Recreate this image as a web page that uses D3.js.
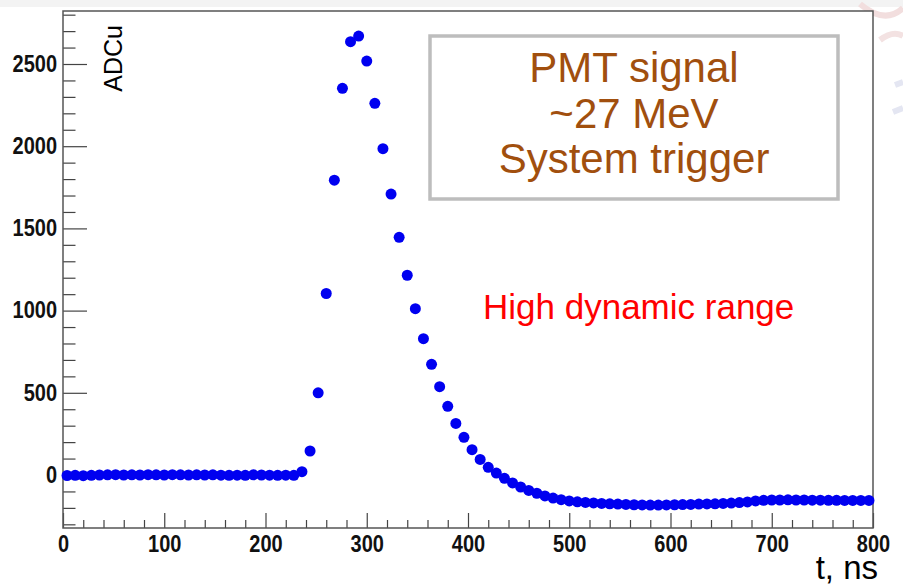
<!doctype html>
<html>
<head>
<meta charset="utf-8">
<script src="https://cdn.jsdelivr.net/npm/d3@7/dist/d3.min.js"></script>
<style>
body { margin: 0; background: #fff; }
text { font-family: "Liberation Sans", Arial, sans-serif; }
</style>
</head>
<body>
<script>
// ADC samples, 8 ns bins (bin centres 4, 12, ... 796)
var times = d3.range(100).map(k => 4 + 8 * k);
var adc = [
  -3, -2, -4, -2, 0, 1, 2, 0, 1, 0,
  2, 1, 0, 2, 1, 0, 1, 0, 1, -1,
  -2, -1, -2, 1, 0, -1, -2, -1, -2, 20,
  146, 500, 1104, 1793, 2352, 2636, 2670, 2518, 2261, 1985,
  1709, 1446, 1215, 1012, 829, 673, 537, 418, 314, 229,
  154, 95, 47, 12, -20, -48, -73, -94, -111, -127,
  -140, -150, -158, -163, -167, -170, -173, -175, -177, -179,
  -181, -182, -183, -183, -182, -181, -180, -179, -177, -176,
  -175, -173, -171, -168, -164, -158, -154, -152, -152, -151,
  -152, -152, -153, -153, -154, -154, -155, -155, -155, -155
];
var xMajor = [0, 100, 200, 300, 400, 500, 600, 700, 800];
var yMajor = [0, 500, 1000, 1500, 2000, 2500];
var legendLines = ["PMT signal", "~27 MeV", "System trigger"];

var W = 903, H = 585;
var box = {left: 63, right: 873, top: 11, bottom: 528};

var svg = d3.select("body").append("svg")
  .attr("width", W)
  .attr("height", H);

// slide background bits
svg.append("rect").attr("width", W).attr("height", 7).style("fill", "#f3f3f3");
var logo = svg.append("g").style("fill", "none").style("stroke-width", 6);
logo.append("path").attr("d", "M 860 4 Q 885 25 903 8").style("stroke", "#f2dede");
logo.append("path").attr("d", "M 880 40 Q 893 30 903 36").style("stroke", "#f3e2e2");
logo.append("path").attr("d", "M 895 85 L 903 82").style("stroke", "#e4e6f2");
logo.append("path").attr("d", "M 893 112 L 903 108").style("stroke", "#e4e6f2");

var x = d3.scaleLinear().domain([0, 800]).range([box.left, box.right]);
var y = d3.scaleLinear().domain([0, 2500]).range([475, 64]);

svg.append("rect")
  .attr("x", box.left).attr("y", box.top)
  .attr("width", box.right - box.left).attr("height", box.bottom - box.top)
  .style("fill", "#fff");

// y axis: minor + major ticks pointing inwards
var yMinor = d3.range(-300, 2801, 100).filter(v => v % 500 != 0);
var gyMin = svg.append("g")
  .attr("transform", "translate(" + box.left + ",0)")
  .call(d3.axisLeft(y).tickValues(yMinor).tickSize(-12.5).tickFormat(""));
var gy = svg.append("g")
  .attr("transform", "translate(" + box.left + ",0)")
  .call(d3.axisLeft(y).tickValues(yMajor).tickSize(-24).tickPadding(6).tickFormat(d3.format("d")));

// x axis
var xMinor = d3.range(0, 801, 20).filter(v => v % 100 != 0);
var gxMin = svg.append("g")
  .attr("transform", "translate(0," + box.bottom + ")")
  .call(d3.axisBottom(x).tickValues(xMinor).tickSize(-8).tickFormat(""));
var gx = svg.append("g")
  .attr("transform", "translate(0," + box.bottom + ")")
  .call(d3.axisBottom(x).tickValues(xMajor).tickSize(-15).tickPadding(7).tickFormat(d3.format("d")));

[gyMin, gy, gxMin, gx].forEach(g => {
  g.select(".domain").remove();
  g.selectAll("line").style("stroke", "#444").style("stroke-width", 1.2);
  g.selectAll("text")
    .style("font-size", "20px")
    .style("font-weight", "bold")
    .style("fill", "#111")
    .attr("transform", "scale(1,1.15)");
});

svg.append("rect")
  .attr("x", box.left).attr("y", box.top)
  .attr("width", box.right - box.left).attr("height", box.bottom - box.top)
  .style("fill", "none")
  .style("stroke", "#555")
  .style("stroke-width", 1.5);

// axis titles
svg.append("text")
  .attr("transform", "translate(122,25) rotate(-90)")
  .attr("text-anchor", "end")
  .style("font-size", "25px")
  .style("fill", "#000")
  .text("ADCu");
svg.append("text")
  .attr("x", 878).attr("y", 579)
  .attr("text-anchor", "end")
  .style("font-size", "33px")
  .style("fill", "#000")
  .text("t, ns");

// data points
svg.append("g").selectAll("circle")
  .data(times)
  .enter().append("circle")
  .attr("cx", (d, i) => x(d))
  .attr("cy", (d, i) => y(adc[i]))
  .attr("r", 5.5)
  .style("fill", "#0000f0");

// legend box
svg.append("rect")
  .attr("x", 430).attr("y", 36)
  .attr("width", 408).attr("height", 163)
  .style("fill", "#fff")
  .style("stroke", "#bdbdbd")
  .style("stroke-width", 3.5);
svg.append("g").selectAll("text")
  .data(legendLines)
  .enter().append("text")
  .attr("x", 634)
  .attr("y", (d, i) => 82 + 45.5 * i)
  .attr("text-anchor", "middle")
  .style("font-size", "42px")
  .style("fill", "#a14f0e")
  .text(d => d);

svg.append("text")
  .attr("x", 483).attr("y", 319)
  .style("font-size", "35px")
  .style("fill", "#ff0000")
  .text("High dynamic range");
</script>
</body>
</html>
